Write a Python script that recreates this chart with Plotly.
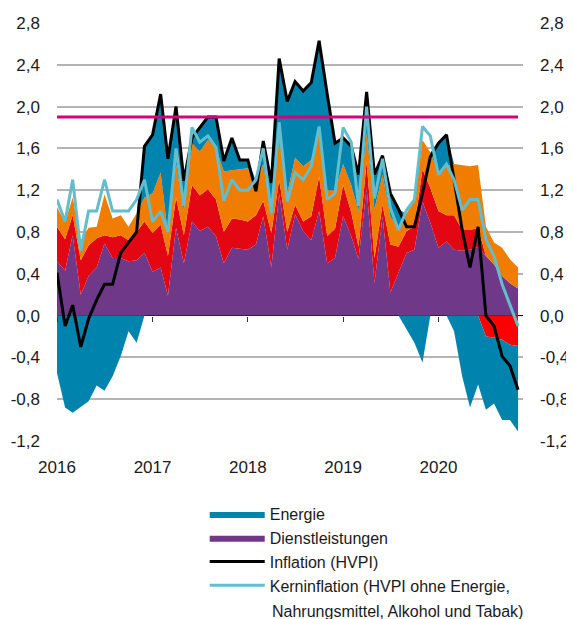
import pandas as pd
import plotly.graph_objects as go

months = pd.date_range("2016-01-01", periods=59, freq="MS")

# contributions (percentage points)
dienstleistungen = [0.52, 0.43, 0.77, 0.20, 0.38, 0.46, 0.69, 0.55, 0.55, 0.52, 0.53, 0.60,
                    0.42, 0.46, 0.19, 0.84, 0.50, 0.90, 0.81, 0.85, 0.76, 0.50, 0.65, 0.64,
                    0.63, 0.68, 0.95, 0.46, 1.17, 0.63, 0.97, 0.81, 0.72, 1.00, 0.50, 0.55,
                    0.95, 0.76, 0.54, 1.22, 0.31, 0.95, 0.22, 0.41, 0.60, 0.63, 1.09, 0.89,
                    0.65, 0.71, 0.63, 0.62, 0.63, 0.66, 0.57, 0.49, 0.38, 0.31, 0.26]
industriegueter = [0.33, 0.30, 0.19, 0.33, 0.29, 0.28, 0.08, 0.20, 0.22, 0.20, 0.27, 0.30,
                   0.37, 0.41, 0.38, 0.29, 0.27, 0.35, 0.34, 0.36, 0.35, 0.30, 0.28, 0.28,
                   0.27, 0.28, 0.15, 0.33, 0.13, 0.17, 0.09, 0.09, 0.23, 0.33, 0.26, 0.28,
                   0.30, 0.23, 0.12, 0.25, 0.24, 0.11, 0.46, 0.25, 0.21, 0.22, 0.31, 0.33,
                   0.35, 0.25, 0.33, 0.20, 0.19, 0.18, -0.20, -0.21, -0.23, -0.28, -0.29]
nahrungsmittel = [0.19, 0.16, 0.17, 0.19, 0.17, 0.11, 0.39, 0.18, 0.19, 0.13, 0.18, 0.23,
                  0.38, 0.50, 0.21, 0.32, 0.23, 0.40, 0.42, 0.47, 0.49, 0.58, 0.46, 0.48,
                  0.51, 0.33, 0.35, 0.16, 0.40, 0.37, 0.45, 0.53, 0.54, 0.42, 0.44, 0.37,
                  0.20, 0.26, 0.34, 0.28, 0.47, 0.29, 0.27, 0.17, 0.16, 0.26, 0.28, 0.34,
                  0.37, 0.47, 0.49, 0.62, 0.61, 0.60, 0.28, 0.21, 0.27, 0.23, 0.20]
energie = [-0.55, -0.88, -0.93, -0.87, -0.82, -0.67, -0.72, -0.58, -0.39, -0.15, -0.26, 0.49,
           0.56, 0.75, 0.72, 0.55, 0.29, 0.05, 0.23, 0.22, 0.30, 0.10, 0.31, 0.09,
           0.08, 0.00, 0.22, 0.32, 0.76, 0.88, 0.73, 0.72, 0.74, 0.88, 0.92, 0.45,
           0.25, 0.37, 0.35, 0.39, 0.33, 0.18, 0.22, 0.19, -0.13, -0.26, -0.45, 0.00,
           0.28, 0.30, -0.15, -0.58, -0.88, -0.66, -0.70, -0.63, -0.77, -0.72, -0.82]
inflation = [0.41, -0.10, 0.10, -0.30, -0.03, 0.15, 0.30, 0.30, 0.60, 0.70, 0.80, 1.62,
             1.73, 2.12, 1.50, 2.00, 1.29, 1.70, 1.80, 1.90, 1.90, 1.48, 1.70, 1.49,
             1.49, 1.19, 1.67, 1.27, 2.46, 2.05, 2.24, 2.15, 2.23, 2.63, 2.12, 1.65,
             1.70, 1.62, 1.35, 2.14, 1.35, 1.53, 1.17, 1.02, 0.85, 0.85, 1.17, 1.52,
             1.65, 1.73, 1.30, 0.82, 0.46, 0.85, 0.00, -0.10, -0.39, -0.48, -0.71]
kerninflation = [1.11, 0.90, 1.30, 0.62, 1.00, 1.00, 1.30, 1.00, 1.00, 1.00, 1.11, 1.30,
                 0.90, 1.00, 0.80, 1.60, 1.05, 1.80, 1.66, 1.72, 1.61, 1.10, 1.30, 1.20,
                 1.20, 1.30, 1.60, 0.98, 1.85, 1.09, 1.37, 1.30, 1.43, 1.81, 1.11, 1.17,
                 1.80, 1.66, 1.05, 2.00, 1.12, 1.50, 1.03, 0.82, 1.01, 1.11, 1.81, 1.72,
                 1.35, 1.45, 1.30, 1.01, 1.11, 1.11, 0.73, 0.57, 0.30, 0.11, -0.10]
zielwert = 1.9

y_ticks = [-1.2, -0.8, -0.4, 0.0, 0.4, 0.8, 1.2, 1.6, 2.0, 2.4, 2.8]
y_ticktext = ["-1,2", "-0,8", "-0,4", "0,0", "0,4", "0,8", "1,2", "1,6", "2,0", "2,4", "2,8"]

legend_kern_1 = "Kerninflation (HVPI ohne Energie,"
legend_kern_2 = "Nahrungsmittel, Alkohol und Tabak)"

C_ENERGIE = "#0083AC"
C_DIENST = "#6F3889"
C_IND = "#E30613"
C_IND_NEG = "#FF0000"
C_FOOD = "#F07D00"
C_CORE = "#62BDCC"
C_TARGET = "#D6007D"
C_TEXT = "#1a1a1a"

pos = lambda v: [max(a, 0) for a in v]
neg = lambda v: [min(a, 0) for a in v]

fig = go.Figure()

def area(y, color, name, group, show=False, rank=100):
    fig.add_trace(go.Scatter(x=months, y=y, name=name, stackgroup=group, mode="lines",
                             line=dict(width=0, color=color), fillcolor=color,
                             showlegend=show, legendrank=rank, hoverinfo="skip"))

area(dienstleistungen, C_DIENST, "Dienstleistungen", "pos", True, 2)
area(pos(industriegueter), C_IND, "Industriegüter", "pos")
area(nahrungsmittel, C_FOOD, "Nahrungsmittel", "pos")
area(pos(energie), C_ENERGIE, "Energie", "pos", True, 1)
area(neg(industriegueter), C_IND_NEG, "Industriegüter", "neg")
area(neg(energie), C_ENERGIE, "Energie", "neg")

fig.add_trace(go.Scatter(x=months, y=inflation, mode="lines", name="Inflation (HVPI)",
                         line=dict(color="black", width=3), legendrank=3))
fig.add_trace(go.Scatter(x=months, y=kerninflation, mode="lines", name=legend_kern_1,
                         line=dict(color=C_CORE, width=3), legendrank=4))
fig.add_trace(go.Scatter(x=months, y=[zielwert] * len(months), mode="lines", showlegend=False,
                         line=dict(color=C_TARGET, width=3), xaxis="x2", yaxis="y2"))

xr = ["2016-01-01", "2020-11-20"]
tickfont = dict(family="Liberation Sans, Arial, sans-serif", size=17, color=C_TEXT)
legfont = dict(family="Liberation Sans, Arial, sans-serif", size=16, color=C_TEXT)

# the page body has an 8px margin, so the figure is sized to fit the remaining window
fig.update_layout(
    width=566, height=611,
    margin=dict(l=49, r=51, t=15, b=178),
    paper_bgcolor="white", plot_bgcolor="white",
    showlegend=True,
    xaxis=dict(range=xr, type="date", tickformat="%Y", dtick="M12", tick0="2016-01-01",
               showgrid=False, zeroline=False, ticks="", showline=False, automargin=False,
               tickfont=tickfont, ticklabelstandoff=14),
    xaxis2=dict(range=xr, type="date", overlaying="x", anchor="free", position=0.3,
                dtick="M12", tick0="2016-01-01", showgrid=False, zeroline=False,
                showticklabels=False, ticks="outside", ticklen=5, tickwidth=1,
                tickcolor="#333333", showline=False, automargin=False),
    yaxis=dict(range=[-1.2, 2.8], tickvals=y_ticks, ticktext=y_ticktext,
               showgrid=True, gridcolor="#b4b4b4", gridwidth=1.5, automargin=False,
               zeroline=True, zerolinecolor="black", zerolinewidth=1,
               tickfont=tickfont, ticks="", ticklabelstandoff=16, showline=False),
    yaxis2=dict(range=[-1.2, 2.8], tickvals=y_ticks, ticktext=y_ticktext, overlaying="y",
                side="right", showgrid=False, zeroline=False, anchor="x", automargin=False,
                tickfont=tickfont, ticks="", ticklabelstandoff=16, showline=False),
    legend=dict(x=0.317, y=-0.134, xanchor="left", yanchor="top", valign="middle",
                traceorder="normal", itemwidth=55, tracegroupgap=0, borderwidth=0,
                bgcolor="rgba(0,0,0,0)", font=legfont),
    annotations=[dict(text=legend_kern_2, xref="paper", yref="paper", x=0.457, y=-0.409,
                      xanchor="left", yanchor="middle", showarrow=False, font=legfont)],
)

fig.write_html("out.html")
